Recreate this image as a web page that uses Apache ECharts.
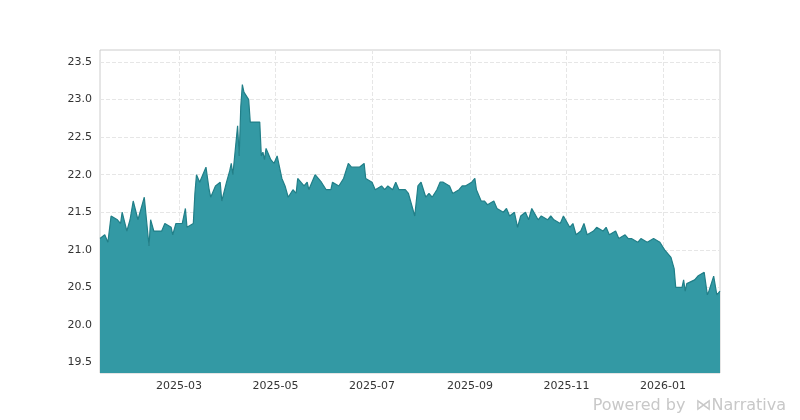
<!DOCTYPE html>
<html>
<head>
<meta charset="utf-8">
<script src="https://cdn.jsdelivr.net/npm/echarts@6/dist/echarts.min.js"></script>
<style>html,body{margin:0;padding:0;background:#fff}</style>
</head>
<body>
<div id="main" style="width:800px;height:420px"></div>
<script>
// price series
var dates = ['2025-01-10','2025-01-13','2025-01-15','2025-01-17','2025-01-21','2025-01-23','2025-01-24','2025-01-27','2025-01-29','2025-01-31',
  '2025-02-03','2025-02-05','2025-02-07','2025-02-10','2025-02-11','2025-02-13','2025-02-18','2025-02-20','2025-02-24','2025-02-25','2025-02-27',
  '2025-03-03','2025-03-05','2025-03-06','2025-03-10','2025-03-11','2025-03-12','2025-03-14','2025-03-18','2025-03-20','2025-03-21','2025-03-24','2025-03-27','2025-03-28','2025-03-31',
  '2025-04-02','2025-04-03','2025-04-04','2025-04-07','2025-04-08','2025-04-09','2025-04-10','2025-04-11','2025-04-14','2025-04-15','2025-04-21','2025-04-22','2025-04-23','2025-04-24','2025-04-25','2025-04-28','2025-04-30',
  '2025-05-02','2025-05-05','2025-05-07','2025-05-09','2025-05-12','2025-05-14','2025-05-15','2025-05-19','2025-05-21','2025-05-22','2025-05-26','2025-05-28','2025-05-30',
  '2025-06-02','2025-06-05','2025-06-06','2025-06-10','2025-06-13','2025-06-16','2025-06-18','2025-06-20','2025-06-23','2025-06-26','2025-06-27',
  '2025-07-01','2025-07-03','2025-07-07','2025-07-09','2025-07-11','2025-07-14','2025-07-16','2025-07-18','2025-07-22','2025-07-24','2025-07-28','2025-07-30',
  '2025-08-01','2025-08-04','2025-08-06','2025-08-08','2025-08-11','2025-08-13','2025-08-15','2025-08-19','2025-08-21','2025-08-25','2025-08-27','2025-08-29',
  '2025-09-02','2025-09-04','2025-09-05','2025-09-08','2025-09-10','2025-09-12','2025-09-16','2025-09-18','2025-09-22','2025-09-24','2025-09-26','2025-09-29',
  '2025-10-01','2025-10-03','2025-10-06','2025-10-08','2025-10-10','2025-10-14','2025-10-16','2025-10-20','2025-10-22','2025-10-24','2025-10-28','2025-10-30',
  '2025-11-03','2025-11-05','2025-11-07','2025-11-10','2025-11-12','2025-11-14','2025-11-18','2025-11-20','2025-11-24','2025-11-26','2025-11-28',
  '2025-12-02','2025-12-04','2025-12-08','2025-12-10','2025-12-12','2025-12-16','2025-12-18','2025-12-22','2025-12-26','2025-12-30',
  '2026-01-02','2026-01-06','2026-01-08','2026-01-09','2026-01-13','2026-01-14','2026-01-15','2026-01-16','2026-01-21','2026-01-23','2026-01-27','2026-01-29','2026-01-30',
  '2026-02-02','2026-02-04','2026-02-06'];
var prices = [21.15,21.2,21.1,21.45,21.4,21.35,21.5,21.25,21.4,21.65,
  21.4,21.55,21.7,21.05,21.4,21.25,21.25,21.35,21.3,21.2,21.35,
  21.35,21.55,21.3,21.35,21.75,22.0,21.9,22.1,21.8,21.7,21.85,21.9,21.65,21.9,
  22.05,22.15,22.0,22.65,22.25,22.9,23.2,23.1,23.0,22.7,22.7,22.25,22.3,22.2,22.35,22.2,22.15,
  22.25,21.95,21.85,21.7,21.8,21.75,21.95,21.85,21.9,21.8,22.0,21.95,21.9,
  21.8,21.8,21.9,21.85,21.95,22.15,22.1,22.1,22.1,22.15,21.95,
  21.9,21.8,21.85,21.8,21.85,21.8,21.9,21.8,21.8,21.75,21.45,21.85,
  21.9,21.7,21.75,21.7,21.8,21.9,21.9,21.85,21.75,21.8,21.85,21.85,
  21.9,21.95,21.8,21.65,21.65,21.6,21.65,21.55,21.5,21.55,21.45,21.5,
  21.3,21.45,21.5,21.4,21.55,21.4,21.45,21.4,21.45,21.4,21.35,21.45,
  21.3,21.35,21.2,21.25,21.35,21.2,21.25,21.3,21.25,21.3,21.2,
  21.25,21.15,21.2,21.15,21.15,21.1,21.15,21.1,21.15,21.1,
  21.0,20.9,20.75,20.5,20.5,20.6,20.45,20.55,20.6,20.65,20.7,20.4,20.45,
  20.65,20.4,20.45];
var yTicks = [19.5,20.0,20.5,21.0,21.5,22.0,22.5,23.0,23.5];
var xTicks = ['2025-03-01','2025-05-01','2025-07-01','2025-09-01','2025-11-01','2026-01-01'];

function ts(d) { return Date.UTC(+d.slice(0, 4), +d.slice(5, 7) - 1, +d.slice(8, 10)); }
var series = dates.map(function (d, i) { return [ts(d), prices[i]]; });
var xTickTimes = xTicks.map(ts);

var chart = echarts.init(document.getElementById('main'));
chart.setOption({
  animation: false,
  grid: { left: 100, right: 80, top: 50, bottom: 47, show: true, borderColor: '#ccc', borderWidth: 1 },
  xAxis: {
    type: 'value',
    min: ts('2025-01-10'),
    max: ts('2026-02-06'),
    axisLine: { show: false },
    axisTick: { show: false, customValues: xTickTimes },
    splitLine: { show: true, lineStyle: { color: '#e6e6e6', type: 'dashed' } },
    axisLabel: {
      customValues: xTickTimes,
      color: '#333', fontSize: 11, fontFamily: 'DejaVu Sans',
      formatter: function (v) { var d = new Date(v); return d.getUTCFullYear() + '-' + String(d.getUTCMonth() + 1).padStart(2, '0'); }
    }
  },
  yAxis: {
    type: 'value',
    min: 19.36, max: 23.66,
    axisLine: { show: false },
    axisTick: { show: false, customValues: yTicks },
    splitLine: { show: true, lineStyle: { color: '#e6e6e6', type: 'dashed' } },
    axisLabel: { customValues: yTicks, color: '#333', fontSize: 11, fontFamily: 'DejaVu Sans', formatter: function (v) { return v.toFixed(1); } }
  },
  series: [{
    type: 'line',
    data: series,
    showSymbol: false,
    lineStyle: { color: '#217f88', width: 1.2 },
    areaStyle: { color: '#3399a4', opacity: 1, origin: 'start' }
  }],
  graphic: [{
    type: 'text', right: 14, bottom: 6,
    style: { text: 'Powered by  ⋈Narrativa', fill: '#c8c8c8', font: '16px "DejaVu Sans"' }
  }]
});
</script>
</body>
</html>
